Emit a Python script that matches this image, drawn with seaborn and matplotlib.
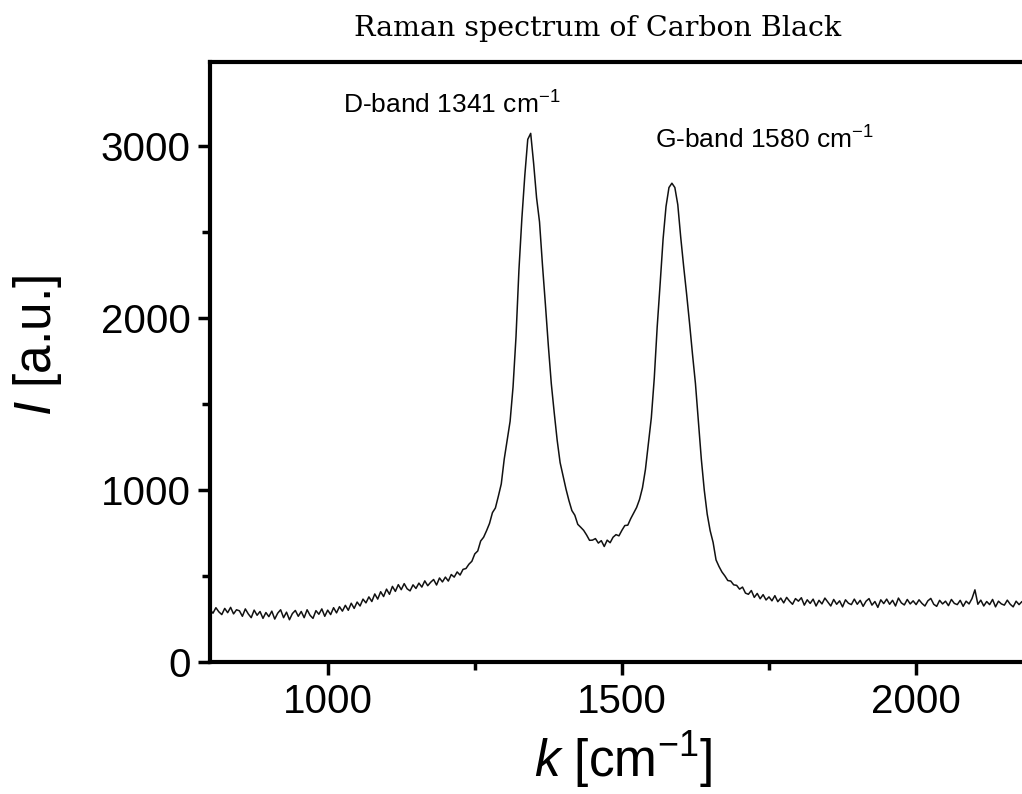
import numpy as np
import pandas as pd
import matplotlib
matplotlib.use("Agg")
import matplotlib.pyplot as plt
from matplotlib.ticker import AutoMinorLocator
import seaborn as sns

# ---- data ----
wavenumber = list(range(800, 2185, 5))
intensity = [
    305, 284, 316, 292, 276, 312, 287, 318, 280, 304,
    298, 266, 309, 280, 258, 302, 272, 294, 254, 288,
    264, 296, 250, 284, 304, 258, 290, 246, 282, 300,
    266, 294, 258, 304, 272, 254, 299, 278, 309, 266,
    302, 276, 316, 286, 322, 296, 330, 301, 342, 312,
    349, 326, 366, 344, 379, 352, 396, 366, 409, 381,
    424, 394, 440, 411, 450, 421, 456, 426, 414, 449,
    428, 459, 436, 472, 444, 464, 480, 448, 489, 466,
    494, 471, 509, 494, 524, 506, 539, 544, 569, 586,
    629, 646, 704, 726, 764, 806, 869, 896, 964, 1036,
    1180, 1290, 1400, 1600, 1890, 2280, 2580, 2830, 3040, 3075,
    2900, 2700, 2560, 2310, 2080, 1840, 1620, 1450, 1290, 1160,
    1084, 1006, 939, 881, 854, 801, 784, 766, 739, 708,
    709, 718, 692, 706, 672, 709, 694, 726, 741, 734,
    766, 794, 796, 834, 866, 899, 946, 1014, 1120, 1270,
    1420, 1650, 1950, 2200, 2460, 2650, 2760, 2785, 2760, 2660,
    2470, 2300, 2140, 1970, 1790, 1620, 1400, 1180, 1000, 860,
    764, 696, 594, 556, 524, 501, 474, 471, 449, 446,
    424, 436, 401, 394, 416, 376, 399, 368, 392, 361,
    379, 356, 386, 351, 372, 344, 376, 354, 336, 369,
    354, 374, 331, 362, 341, 366, 326, 359, 338, 372,
    349, 326, 364, 336, 356, 321, 362, 342, 334, 366,
    336, 359, 324, 354, 369, 331, 352, 318, 362, 340,
    366, 336, 359, 326, 372, 344, 332, 364, 338, 356,
    334, 362, 341, 326, 356, 370, 336, 324, 359, 338,
    354, 328, 364, 341, 334, 359, 324, 354, 338, 369,
    420, 336, 360, 326, 352, 334, 364, 321, 354, 338,
    331, 360, 336, 321, 354, 334, 352,
]
x_ticks = [1000, 1500, 2000]
y_ticks = [0, 1000, 2000, 3000]
title = "Raman spectrum of Carbon Black"
peak_labels = ["D-band 1341 cm$^{-1}$", "G-band 1580 cm$^{-1}$"]
peak_label_pos = [(1026, 3192), (1556, 2988)]

df = pd.DataFrame({"k": wavenumber, "I": intensity})

sns.set_theme(style="ticks")
plt.rcParams["font.family"] = ["Liberation Sans", "DejaVu Sans"]
plt.rcParams["mathtext.fontset"] = "custom"
plt.rcParams["mathtext.rm"] = "Liberation Sans"
plt.rcParams["mathtext.it"] = "Liberation Sans:italic"
plt.rcParams["mathtext.bf"] = "Liberation Sans:bold"
for key in ["text.color", "axes.labelcolor", "xtick.color", "ytick.color",
            "xtick.labelcolor", "ytick.labelcolor"]:
    plt.rcParams[key] = "black"

fig = plt.figure(figsize=(10.22, 7.94), dpi=100)
ax = fig.add_axes([0.2055, 0.1662, 0.7945, 0.7557])

sns.lineplot(data=df, x="k", y="I", ax=ax, color="#111111", linewidth=1.1,
             estimator=None, sort=False)

ax.set_xlim(800, 2180)
ax.set_ylim(0, 3490)
ax.set_xticks(x_ticks)
ax.set_yticks(y_ticks)
ax.xaxis.set_minor_locator(AutoMinorLocator(2))
ax.yaxis.set_minor_locator(AutoMinorLocator(2))

for s in ["left", "bottom", "top"]:
    ax.spines[s].set_linewidth(3)
    ax.spines[s].set_color("black")
ax.spines["right"].set_visible(False)

ax.tick_params(axis="both", which="major", direction="out", length=9, width=2.5,
               labelsize=29, pad=5, colors="black", top=False, right=False)
ax.tick_params(axis="both", which="minor", direction="out", length=5.5, width=2.5,
               colors="black", top=False, right=False)
ax.tick_params(axis="x", which="major", pad=6)

ax.set_xlabel(r"$\mathit{k}$ [cm$^{\mathrm{-1}}$]", fontsize=37, color="black")
ax.set_ylabel(r"$\mathit{I}$ [a.u.]", fontsize=37, color="black")
ax.xaxis.set_label_coords(0.509, -0.112)
ax.yaxis.set_label_coords(-0.18, 0.527)

for txt, (px, py) in zip(peak_labels, peak_label_pos):
    ax.text(px, py, txt, fontsize=19, ha="left", va="baseline", color="black")

fig.text(0.585, 0.955, title, fontsize=20.5, family=["DejaVu Serif"],
         ha="center", va="baseline", color="black")

fig.savefig("out.png", dpi=100)
